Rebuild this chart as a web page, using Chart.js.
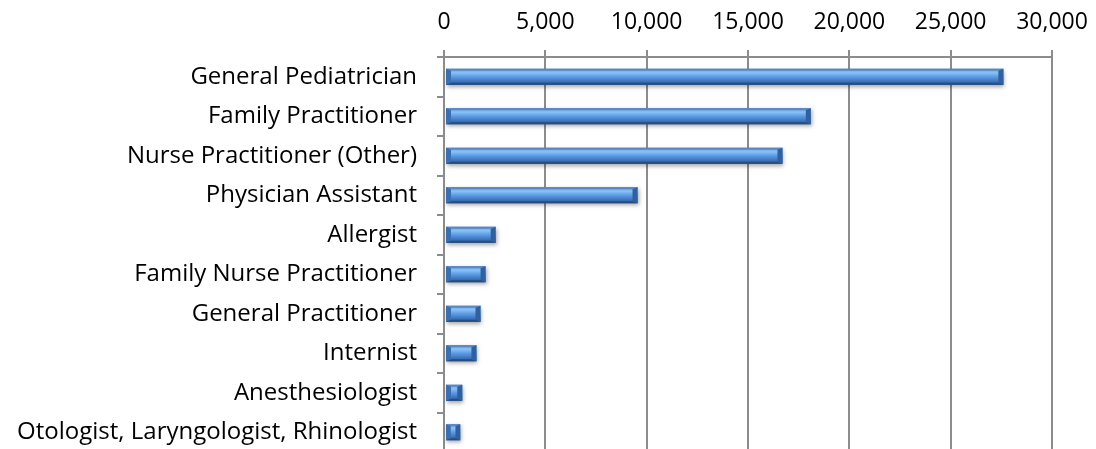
<!DOCTYPE html>
<html>
<head>
<meta charset="utf-8">
<title>Providers</title>
<script src="https://cdn.jsdelivr.net/npm/chart.js@4.4.1/dist/chart.umd.min.js"></script>
<style>
    html, body { margin: 0; padding: 0; background: #fff; overflow: hidden; }
    #wrap { position: relative; width: 1096px; height: 460px; }
</style>
</head>
<body>
<div id="wrap"><canvas id="providerChart" width="1096" height="460"></canvas></div>
<script>
const categories = [
    'General Pediatrician',
    'Family Practitioner',
    'Nurse Practitioner (Other)',
    'Physician Assistant',
    'Allergist',
    'Family Nurse Practitioner',
    'General Practitioner',
    'Internist',
    'Anesthesiologist',
    'Otologist, Laryngologist, Rhinologist'
];
const providerCounts = [27600, 18100, 16700, 9550, 2550, 2050, 1800, 1600, 900, 800];
const tickValues = [0, 5000, 10000, 15000, 20000, 25000, 30000];

const GRID = '#8c8c8c';
const FONT = '"Open Sans", sans-serif';

// bevelled bar face, drawn over each bar element
const bevelBars = {
    id: 'bevelBars',
    afterDatasetsDraw(chart) {
        const ctx = chart.ctx;
        const meta = chart.getDatasetMeta(0);
        meta.data.forEach(function (bar) {
            const p = bar.getProps(['x', 'y', 'base', 'height'], true);
            const L = p.base + 1, R = p.x, T = p.y - p.height / 2, B = p.y + p.height / 2;
            const b = Math.min(5, (R - L) / 3);
            const bt = 2;

            ctx.save();
            ctx.shadowColor = 'rgba(0,0,0,0.35)';
            ctx.shadowBlur = 4;
            ctx.shadowOffsetX = 1;
            ctx.shadowOffsetY = 2;
            ctx.fillStyle = '#3a70b5';
            ctx.fillRect(L, T, R - L, B - T);
            ctx.restore();

            const face = ctx.createLinearGradient(0, T, 0, B);
            face.addColorStop(0, '#6ea6e6');
            face.addColorStop(0.25, '#86c1f8');
            face.addColorStop(0.5, '#5d9be4');
            face.addColorStop(0.8, '#3b73bc');
            face.addColorStop(1, '#2d5892');
            ctx.fillStyle = face;
            ctx.fillRect(L, T, R - L, B - T);

            function poly(pts, color) {
                ctx.beginPath();
                ctx.moveTo(pts[0][0], pts[0][1]);
                for (let i = 1; i < pts.length; i++) ctx.lineTo(pts[i][0], pts[i][1]);
                ctx.closePath();
                ctx.fillStyle = color;
                ctx.fill();
            }
            // thin top/bottom edges, heavier bevelled ends
            poly([[L, T], [R, T], [R - bt, T + bt], [L + bt, T + bt]], 'rgba(90,130,185,0.9)');
            poly([[L, B], [R, B], [R - bt, B - bt], [L + bt, B - bt]], '#274d80');
            poly([[R, T], [R, B], [R - b, B - bt], [R - b, T + bt]], '#30609e');
            poly([[L, T], [L, B], [L + b, B - bt], [L + b, T + bt]], '#3a6fb2');
        });
    }
};

new Chart(document.getElementById('providerChart'), {
    type: 'bar',
    data: {
        labels: categories,
        datasets: [{
            data: providerCounts,
            backgroundColor: 'rgba(0,0,0,0)',
            borderWidth: 0,
            barPercentage: 0.4,
            categoryPercentage: 1
        }]
    },
    options: {
        indexAxis: 'y',
        responsive: false,
        animation: false,
        layout: { padding: { top: 0, right: 0, bottom: 8, left: 0 } },
        plugins: {
            legend: { display: false },
            tooltip: { enabled: false }
        },
        scales: {
            x: {
                position: 'top',
                min: 0,
                max: 30000,
                afterBuildTicks(scale) {
                    scale.ticks = tickValues.map(function (v) { return { value: v }; });
                },
                afterFit(scale) {
                    scale.height = 57;
                    scale.paddingLeft = 0;
                    scale.paddingRight = 44;
                },
                grid: { color: GRID, lineWidth: 2, tickLength: 7 },
                border: { display: true, color: GRID, width: 2 },
                ticks: {
                    color: '#000',
                    font: { family: FONT, size: 23 },
                    padding: 14,
                    maxRotation: 0,
                    callback: function (v) { return Number(v).toLocaleString('en-US'); }
                }
            },
            y: {
                afterFit(scale) {
                    scale.width = 444;
                    scale.paddingTop = 0;
                    scale.paddingBottom = 0;
                },
                grid: { drawOnChartArea: false, color: GRID, lineWidth: 2, tickLength: 7, offset: true },
                border: { display: true, color: GRID, width: 2 },
                ticks: {
                    color: '#000',
                    font: { family: FONT, size: 24 },
                    padding: 20
                }
            }
        }
    },
    plugins: [bevelBars]
});
</script>
</body>
</html>
